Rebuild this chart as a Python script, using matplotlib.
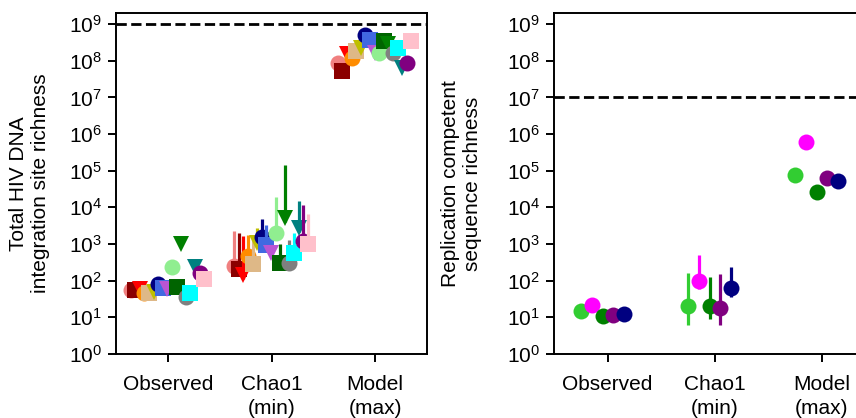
import numpy as np
import matplotlib.pyplot as plt
from matplotlib.ticker import LogLocator, NullLocator

plt.rcParams['font.family'] = ['Liberation Sans', 'DejaVu Sans']
plt.rcParams['font.size'] = 15

categories = ['Observed', 'Chao1\n(min)', 'Model\n(max)']

# left panel: total HIV DNA integration sites, 17 participants
dna_colors = ['lightcoral', 'darkred', 'red', 'darkorange', 'burlywood', 'y',
              'navy', 'royalblue', 'mediumorchid', 'lightgreen', 'darkgreen', 'green',
              'gray', 'cyan', 'teal', 'purple', 'pink']
dna_markers = ['o', 's', 'v'] * 5 + ['o', 's']
dna_obs = [56, 56, 60, 46, 45, 48, 81, 63, 60, 240, 68, 1000, 36, 46, 234, 166, 112]
dna_chao = [250, 210, 145, 470, 290, 1070, 1580, 950, 560, 2040, 300, 5100, 300, 560, 2750, 1230, 1000]
dna_chao_hi = [2200, 2000, 1660, 1780, 1780, 2750, 4800, 3300, 800, 19500, 1000, 145000,
               1300, 2000, 14500, 11700, 6600]
dna_chao_lo = [190, 160, 110, 360, 220, 820, 1200, 720, 430, 1550, 230, 3900, 230, 430, 2100, 940, 760]
dna_model = [8.9e7, 5.1e7, 1.5e8, 1.17e8, 1.8e8, 2.2e8, 5.1e8, 3.7e8, 1.66e8, 1.6e8,
             3.4e8, 2.9e8, 1.6e8, 2.2e8, 6.3e7, 8.7e7, 3.5e8]
dna_limit = 1e9

# right panel: replication competent sequences, 5 participants
rc_colors = ['limegreen', 'magenta', 'green', 'purple', 'navy']
rc_obs = [15, 22, 11, 11.5, 12]
rc_chao = [21, 100, 21, 18, 65]
rc_chao_hi = [160, 500, 123, 150, 235]
rc_chao_lo = [6.2, 60, 9, 6.2, 35]
rc_model = [74000, 590000, 26000, 65000, 53000]
rc_limit = 1e7


def panel(ax, colors, markers, obs, chao, lo, hi, model, limit, offsets, ms):
    for i, c in enumerate(colors):
        xs = np.arange(3) + offsets[i]
        ys = [obs[i], chao[i], model[i]]
        ax.errorbar(xs[1], chao[i], yerr=[[chao[i] - lo[i]], [hi[i] - chao[i]]],
                    fmt='none', ecolor=c, elinewidth=2.3, capsize=0, zorder=2 + i * 0.01)
        ax.plot(xs, ys, ls='none', marker=markers[i], color=c, ms=ms, mew=0,
                zorder=2 + i * 0.01)
    ax.axhline(limit, color='k', ls='--', lw=2, zorder=1)
    ax.set_yscale('log')
    ax.set_ylim(1, 2e9)
    ax.set_xlim(-0.5, 2.5)
    ax.yaxis.set_major_locator(LogLocator(base=10, numticks=20))
    ax.yaxis.set_minor_locator(NullLocator())
    ax.set_xticks(range(3))
    ax.set_xticklabels(categories, va='top', linespacing=1.35)
    ax.tick_params(length=6, width=1.4, labelsize=15, pad=4)
    ax.tick_params(axis='x', pad=9)
    for s in ax.spines.values():
        s.set_linewidth(1.4)


fig = plt.figure(figsize=(8.56, 4.18), dpi=100)
ax1 = fig.add_axes([116 / 856, 64 / 418, 311 / 856, 341 / 418])
ax2 = fig.add_axes([554 / 856, 64 / 418, 321 / 856, 341 / 418])

panel(ax1, dna_colors, dna_markers, dna_obs, dna_chao, dna_chao_lo, dna_chao_hi,
      dna_model, dna_limit, np.linspace(-0.36, 0.35, 17), 11.5)
ax1.set_ylabel('Total HIV DNA\nintegration site richness', fontsize=15, labelpad=14,
               linespacing=1.2)

panel(ax2, rc_colors, ['o'] * 5, rc_obs, rc_chao, rc_chao_lo, rc_chao_hi,
      rc_model, rc_limit, np.linspace(-0.245, 0.155, 5), 11.5)
ax2.set_ylabel('Replication competent\nsequence richness', fontsize=15, labelpad=18,
               linespacing=1.2)

fig.savefig('out.png', dpi=100)
